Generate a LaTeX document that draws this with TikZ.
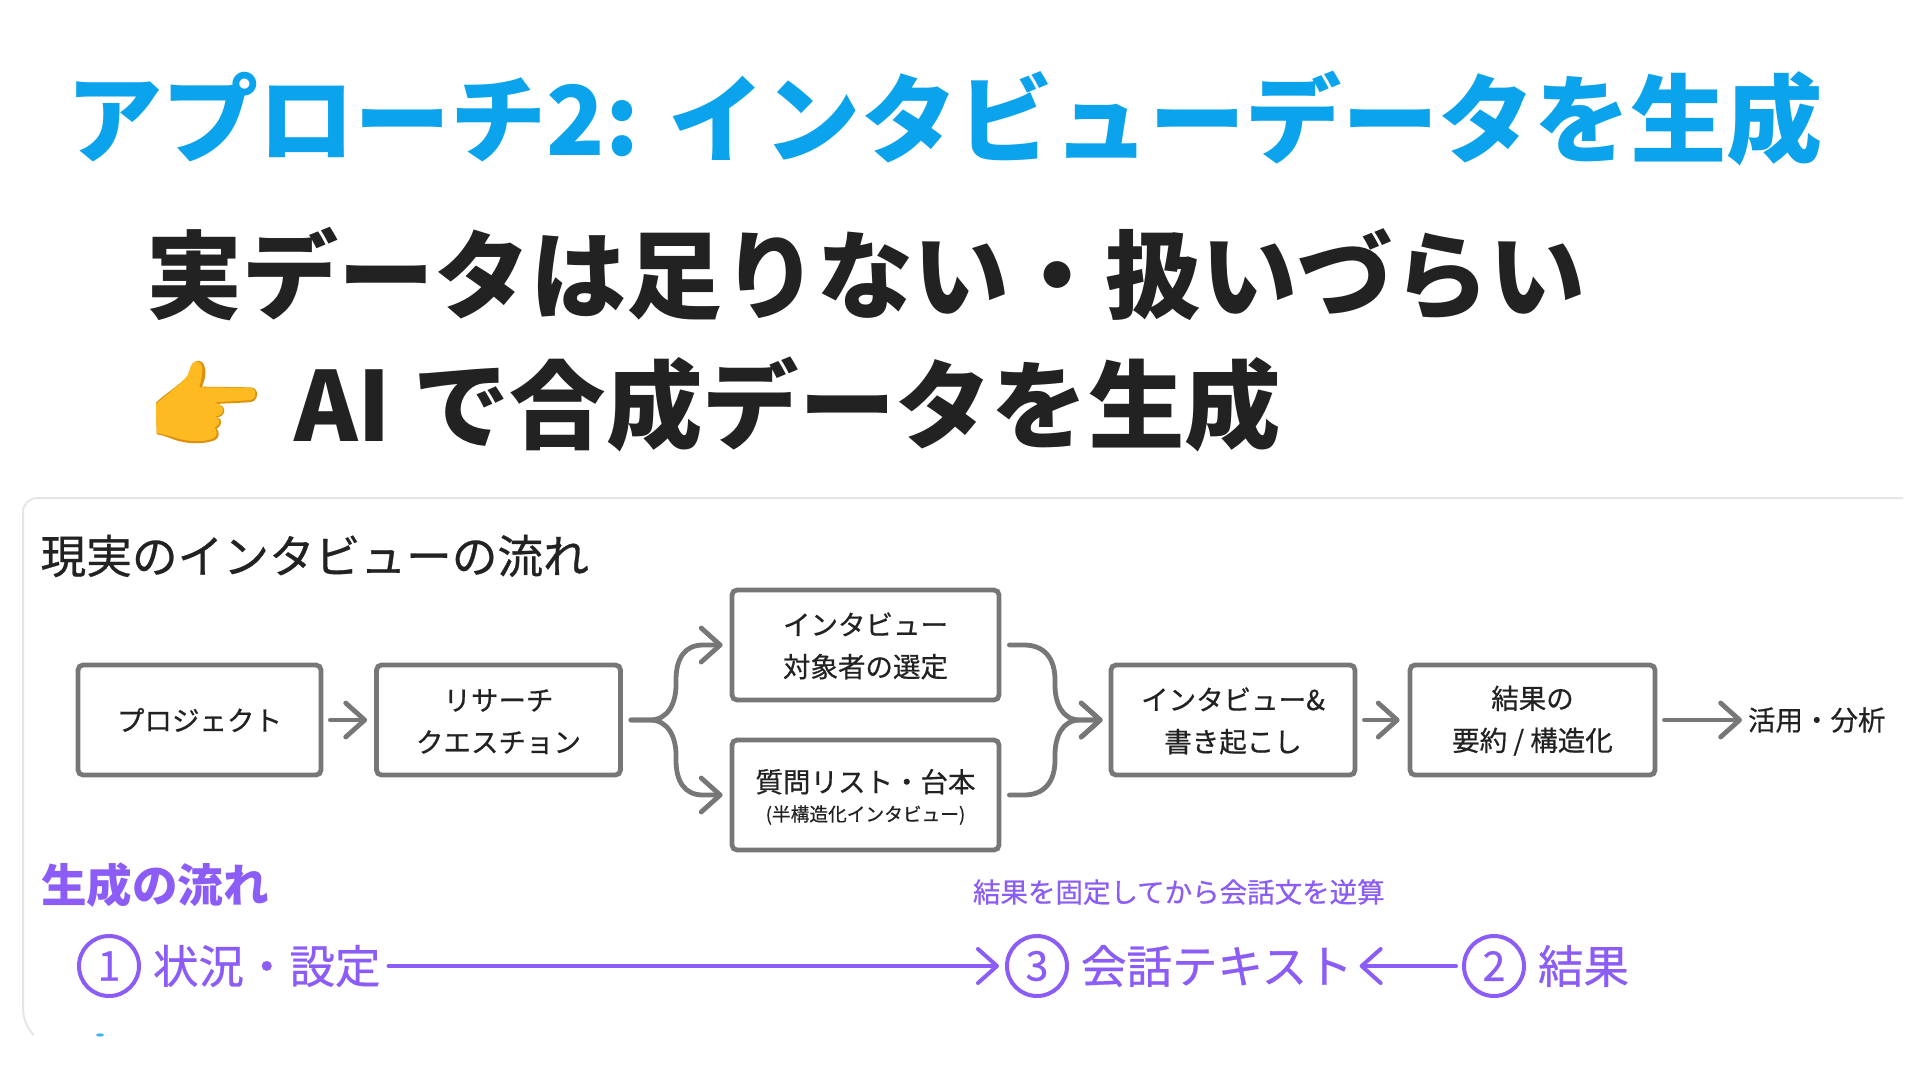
\documentclass[tikz,border=0pt]{standalone}
\usepackage{fontspec}
\setmainfont{Noto Sans CJK JP}
\newfontfamily\medfont[FakeBold=0.6]{Noto Sans CJK JP}
\usetikzlibrary{arrows.meta}
\definecolor{titleblue}{HTML}{0AA3EC}
\definecolor{ink}{HTML}{222222}
\definecolor{edge}{HTML}{777777}
\definecolor{violet}{HTML}{8B5CF6}
\definecolor{panelline}{HTML}{E6E6E6}
\definecolor{handlight}{HTML}{FDBB21}
\definecolor{handdark}{HTML}{DE8F0B}
\newcommand{\fs}[2]{\fontsize{#1}{#2}\selectfont}
\newcommand{\lift}{\rule{0pt}{24.5pt}}
\tikzset{
  x=1pt,y=-1pt,
  flowbox/.style={draw=edge,line width=4.8pt,rounded corners=5pt,fill=white,minimum height=110pt,inner sep=0pt,align=center,text=ink,font=\medfont\fs{27.5}{42}},
  flowarrow/.style={draw=edge,line width=4.8pt,line cap=round,-{Straight Barb[length=19pt,width=34pt,line width=4.8pt,round]}},
  plainlabel/.style={anchor=west,inner sep=0pt,outer sep=0pt},
  numring/.style={circle,draw=violet,line width=4pt,minimum size=60pt,inner sep=0pt,text=violet,font=\medfont\fs{41}{41}},
  genlabel/.style={plainlabel,text=violet,font=\medfont\fs{45.5}{46}},
  genarrow/.style={draw=violet,line width=4pt,line cap=round,-{Straight Barb[length=19pt,width=34pt,line width=4pt,round]}},
}
\begin{document}
\begin{tikzpicture}
\useasboundingbox (0,0) rectangle (1920,1080);
\fill[white] (0,0) rectangle (1920,1080);
% panel
\draw[panelline,line width=2pt,rounded corners=14pt] (34,1035) -- (23,1024) -- (23,498) -- (1903,498);
\fill[titleblue!80!white] (100,1035) ellipse (4pt and 1.6pt);
% headings
\node[plainlabel,text=titleblue,font=\bfseries\fs{96.2}{100}] (title) at (66,119) {アプローチ2: インタビューデータを生成};
\node[plainlabel,text=ink,font=\bfseries\fs{96}{100}] (line2) at (146,274) {実データは足りない・扱いづらい};
\node[plainlabel,text=ink,font=\bfseries\fs{96.4}{100}] (line3) at (294,404) {AI で合成データを生成};
% pointing hand
\begin{scope}[shift={(100,340)},scale=1/3]
\fill[handdark] (168,188) .. controls (190,165) and (240,135) .. (265,105) .. controls (275,85) and (275,62) .. (295,62) .. controls (312,62) and (318,85) .. (316,105) .. controls (314,120) and (310,130) .. (306,140) -- (452,142) .. controls (468,143) and (472,155) .. (471,165) .. controls (470,180) and (460,186) .. (445,187) -- (345,192) .. controls (365,190) and (377,205) .. (372,218) .. controls (370,226) and (362,230) .. (352,232) .. controls (368,236) and (368,258) .. (350,266) .. controls (360,275) and (358,295) .. (345,300) .. controls (320,312) and (270,312) .. (240,304) .. controls (215,298) and (195,286) .. (170,283) -- cycle;
\fill[handlight] (168,192) .. controls (190,172) and (240,135) .. (262,108) .. controls (272,88) and (270,64) .. (290,64) .. controls (306,64) and (310,85) .. (306,105) .. controls (304,120) and (300,132) .. (298,142) -- (450,143) .. controls (464,144) and (468,155) .. (466,165) .. controls (465,176) and (456,181) .. (442,181) -- (342,187) .. controls (362,190) and (374,205) .. (368,216) .. controls (366,224) and (358,228) .. (346,228) .. controls (364,238) and (362,256) .. (344,262) .. controls (354,275) and (352,290) .. (338,296) .. controls (315,306) and (270,305) .. (240,297) .. controls (215,291) and (195,282) .. (170,280) -- cycle;
\end{scope}
% real flow
\node[plainlabel,text=ink,font=\medfont\fs{45.7}{46}] (realhead) at (40.5,556) {現実のインタビューの流れ};
\node[flowbox,minimum width=243pt] (prj) at (199.5,720) {プロジェクト};
\node[flowbox,minimum width=244pt] (rq) at (498.5,720) {\lift リサーチ\\クエスチョン};
\node[flowbox,minimum width=267pt] (sel) at (865.5,645) {\lift インタビュー\\対象者の選定};
\node[flowbox,minimum width=267pt] (qst) at (865.5,795) {\rule{0pt}{27pt}質問リスト・台本\\[-13pt]{\fs{18.7}{24}(半構造化インタビュー)}};
\node[flowbox,minimum width=244pt] (itv) at (1233,720) {\lift インタビュー\&\\書き起こし};
\node[flowbox,minimum width=245pt] (res) at (1532.5,720) {\lift 結果の\\要約 / 構造化};
\node[plainlabel,text=ink,font=\medfont\fs{27.5}{30}] (use) at (1748,720) {活用・分析};
% real flow connectors
\draw[flowarrow] ([xshift=7pt]prj.east) -- ([xshift=-7pt]rq.west);
\draw[flowarrow] ([xshift=7pt]itv.east) -- ([xshift=-8pt]res.west);
\draw[flowarrow] ([xshift=7pt]res.east) -- ([xshift=-6pt]use.west);
\draw[flowarrow] ([xshift=8pt]rq.east) -- (650,720) .. controls (668,720) and (676,703) .. (676,685) -- (676,680) .. controls (676,658) and (685,645) .. (703,645) -- ([xshift=-7pt]sel.west);
\draw[flowarrow] ([xshift=8pt]rq.east) -- (650,720) .. controls (668,720) and (676,737) .. (676,755) -- (676,760) .. controls (676,782) and (685,795) .. (703,795) -- ([xshift=-7pt]qst.west);
\draw[flowarrow] ([xshift=8pt]sel.east) -- (1024,645) .. controls (1044,645) and (1055,658) .. (1055,680) -- (1055,685) .. controls (1055,703) and (1062,720) .. (1080,720) -- ([xshift=-6pt]itv.west);
\draw[flowarrow] ([xshift=8pt]qst.east) -- (1024,795) .. controls (1044,795) and (1055,782) .. (1055,760) -- (1055,755) .. controls (1055,737) and (1062,720) .. (1080,720) -- ([xshift=-6pt]itv.west);
% generation flow
\node[plainlabel,text=violet,font=\bfseries\fs{45.6}{46}] (genhead) at (41,885) {生成の流れ};
\node[plainlabel,text=violet,font=\medfont\fs{27.5}{30}] (note) at (973,892) {結果を固定してから会話文を逆算};
\node[numring] (one) at (109,966) {1};
\node[genlabel] (situ) at (153,966) {状況・設定};
\node[numring] (three) at (1037,966) {3};
\node[genlabel] (talk) at (1081,966) {会話テキスト};
\node[numring] (two) at (1494,966) {2};
\node[genlabel] (outc) at (1538,966) {結果};
\draw[genarrow] ([xshift=8pt]situ.east) -- ([xshift=-6pt]three.west);
\draw[genarrow] ([xshift=-6pt]two.west) -- ([xshift=7pt]talk.east);
\end{tikzpicture}
\end{document}
